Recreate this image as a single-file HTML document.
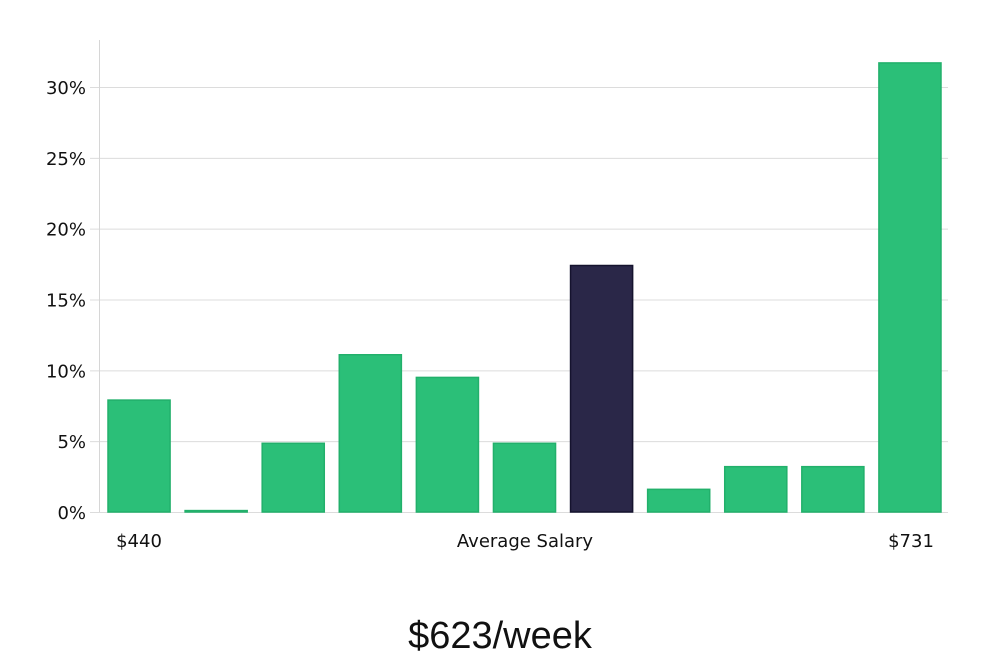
<!DOCTYPE html>
<html><head><meta charset="utf-8"><style>
body{margin:0;background:#fff;width:1000px;height:660px;overflow:hidden;font-family:"DejaVu Sans","Liberation Sans",sans-serif}
</style></head><body>
<svg width="1000" height="660" id="chart">
<g id="grid"></g>
<g id="bars"></g>
<g id="ticks"></g>
<line x1="99.5" y1="40" x2="99.5" y2="512" stroke="#d6d6d6"/>
<text x="139" y="547" font-size="18" text-anchor="middle" fill="#111">$440</text>
<text x="525" y="547" font-size="18" text-anchor="middle" fill="#111">Average Salary</text>
<text x="911" y="547" font-size="18" text-anchor="middle" fill="#111">$731</text>
<text x="500" y="648" font-size="38" text-anchor="middle" fill="#111" font-family="'Liberation Sans',sans-serif" font-weight="300">$623/week</text>
</svg>
<script>
const values=[7.9,0.1,4.85,11.1,9.5,4.85,17.4,1.6,3.2,3.2,31.7];
const highlight=[false,false,false,false,false,false,true,false,false,false,false];
const ticks=[0,5,10,15,20,25,30];
const tickLabels=["0%","5%","10%","15%","20%","25%","30%"];
const x0=100,x1=948,y0=512,pxPer=(512-87)/30;
const y=v=>y0-v*pxPer;
const band=(x1-x0)/values.length;
const NS="http://www.w3.org/2000/svg";
const g=document.getElementById('grid'),tk=document.getElementById('ticks'),b=document.getElementById('bars');
ticks.forEach((t,i)=>{
 const l=document.createElementNS(NS,'line');
 
 
 l.setAttribute('x1',90);l.setAttribute('x2',x1);l.setAttribute('y1',y(t)+.5);l.setAttribute('y2',y(t)+.5);
 l.setAttribute('stroke','#dcdcdc');g.appendChild(l);
 const tx=document.createElementNS(NS,'text');
 
 
 tx.setAttribute('x',86);tx.setAttribute('y',y(t)+7);tx.setAttribute('font-size','18');
 tx.setAttribute('text-anchor','end');tx.setAttribute('fill','#111');tx.textContent=tickLabels[i];tk.appendChild(tx);
});
values.forEach((v,i)=>{
 const r=document.createElementNS(NS,'rect');
 
 
 const top=y(v);
 r.setAttribute('x',x0+i*band+8);r.setAttribute('width',band-15);
 r.setAttribute('y',top);r.setAttribute('height',Math.max(1,y0-top));
 r.setAttribute('fill',highlight[i]?'#2a2748':'#2bbf78');
 r.setAttribute('stroke',highlight[i]?'#15132e':'#22b06b');r.setAttribute('stroke-width','1.5');
 b.appendChild(r);
});
</script>
</body></html>
